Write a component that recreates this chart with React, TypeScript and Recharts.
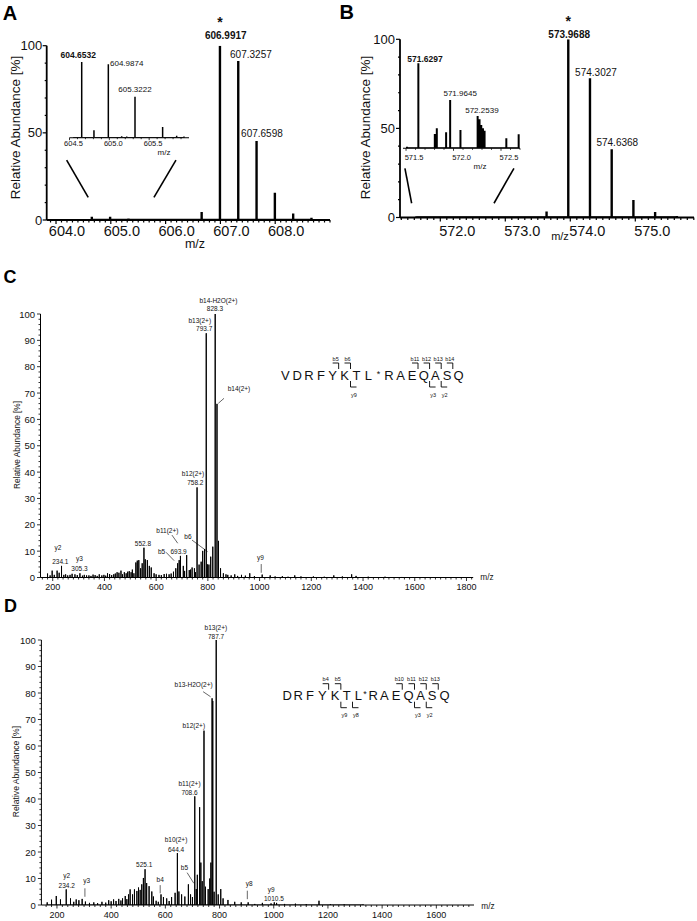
import React from 'react';
import { ComposedChart, Line, XAxis, YAxis, ReferenceDot, ReferenceLine } from 'recharts';

const FONT = '"Liberation Sans", Arial, Helvetica, sans-serif';

// ---------------- Panel A (precursor, main)
const aPeaks: number[][] = [
  [604.6532, 1.9], [604.9874, 1.9], [605.3222, 0.8], [606.33, 0.5], [606.6578, 4.6],
  [606.9917, 100], [607.3257, 91.2], [607.6598, 45.3], [607.9938, 15.7], [608.3279, 3.8], [608.6619, 1.3],
];
const aTicks = [604, 605, 606, 607, 608];
const aYTicks = [0, 50, 100];
// Panel A inset
const aInsetPeaks: number[][] = [
  [604.555, 1], [604.6532, 100], [604.807, 10], [604.9874, 97], [605.155, 2], [605.218, 1.5],
  [605.3222, 54], [605.46, 1], [605.669, 14], [605.845, 2.5], [605.937, 1.5],
];
const aInsetTicks = [604.5, 605.0, 605.5];

// ---------------- Panel B
const bPeaks: number[][] = [
  [571.63, 0.6], [571.96, 0.4], [572.25, 0.4], [573.6348, 3.3], [573.9688, 100], [574.3027, 78.1],
  [574.6368, 38.3], [574.9708, 9.8], [575.3049, 3.1], [575.64, 0.8],
];
const bTicks = [572, 573, 574, 575];
const bYTicks = [0, 50, 100];
const bInsetPeaks: number[][] = [
  [571.51, 1.5], [571.6297, 85], [571.803, 14.3], [571.824, 20], [571.922, 16], [571.9645, 48.3],
  [572.073, 18.3], [572.2539, 32.3], [572.274, 29], [572.292, 23.3], [572.31, 20], [572.327, 17.6],
  [572.556, 10], [572.686, 14],
];
const bInsetTicks = [571.5, 572.0, 572.5];

// ---------------- Panel C (MS/MS)
const cPeaks: number[][] = [
  [180, 1.5], [190, 0.8], [197.9, 2.6], [206, 1.0], [217, 2.6], [225, 1.8], [234.1, 4.4], [243, 1.0],
  [250, 1.2], [258, 0.8], [267, 1.0], [275, 1.4], [286, 1.2], [295, 0.9], [305.3, 1.6], [315, 0.7],
  [322, 1.0], [331, 0.8], [340, 0.8], [348, 0.6], [356, 1.1], [364, 0.9], [372, 0.6], [380, 1.2],
  [390, 0.8], [398, 1.0], [405, 0.7], [412, 1.6], [420, 1.3], [428, 0.9], [436, 1.2], [442, 1.5],
  [449, 2.0], [456, 1.8], [464, 2.6], [470, 1.2], [477, 2.0], [484, 1.6], [490, 2.2], [496, 2.4],
  [503, 2.0], [508, 3.0], [514, 1.6], [521.6, 5.7], [527, 6.4], [533, 6.6], [540, 3.5], [546, 5.4],
  [552.8, 11.3], [558, 6.9], [566, 6.6], [573.6, 4.4], [581, 3.8], [592, 1.6], [600, 1.2], [611, 1.0],
  [620, 0.9], [631, 1.3], [640, 1.4], [650, 1.2], [658, 1.5], [667, 2.2], [676, 3.5], [683, 5.4],
  [689, 6.6], [693.9, 8.2], [705, 4.4], [710, 2.5], [718, 8.5], [728, 2.8], [733, 3.0], [739, 3.8],
  [748, 3.5], [752, 2.0], [758.2, 34.2], [766, 4.9], [774, 6.0], [780, 10.1], [787, 10.8], [793.7, 92.7],
  [798, 5.0], [804, 4.9], [811, 7.9], [819, 11.7], [828.3, 100], [835.3, 65.9], [841, 13.9], [849, 3.5],
  [860, 1.6], [870, 1.2], [877, 1.0], [890, 0.8], [904, 1.2], [915, 0.6], [930, 1.0], [945, 0.7],
  [962, 1.6], [980, 0.5], [1010, 1.1], [1041, 0.8], [1060, 0.4], [1088, 0.5], [1110, 0.3], [1136, 0.8],
  [1160, 0.4], [1208, 0.4], [1250, 0.3], [1287, 0.8], [1320, 0.4], [1356, 1.2], [1373, 0.6], [1420, 0.3],
  [1485, 0.3], [1550, 0.2],
];
const cTicks = [200, 400, 600, 800, 1000, 1200, 1400, 1600, 1800];
const cYTicks = [0, 10, 20, 30, 40, 50, 60, 70, 80, 90, 100];

// ---------------- Panel D (MS/MS)
const dPeaks: number[][] = [
  [164, 1.0], [180, 2.0], [197.5, 3.4], [213, 2.1], [234.2, 5.9], [250, 2.5], [262, 1.2], [271, 2.1],
  [281, 1.8], [293, 2.3], [305, 1.3], [320, 0.8], [336, 1.0], [350, 0.7], [366, 1.2], [380, 0.9],
  [391, 1.8], [400, 1.4], [409, 2.1], [418, 1.5], [428, 2.3], [436, 1.7], [442, 2.5], [452, 3.4],
  [458, 2.2], [464, 4.0], [470, 5.9], [479, 4.0], [486, 5.9], [495, 5.3], [501, 6.6], [507, 5.7],
  [513, 7.8], [519, 10.2], [525.1, 13.5], [531, 8.3], [540, 7.1], [550, 5.1], [556, 3.2], [566, 1.6],
  [574, 1.2], [584, 4.0], [593, 3.0], [605, 2.5], [614, 1.5], [623, 3.0], [636, 4.6], [644.4, 19.6],
  [650, 5.1], [660, 4.0], [672, 3.2], [685, 7.8], [693, 4.0], [700, 3.0], [708.6, 41], [714, 6],
  [718, 11.4], [726.5, 36.9], [731, 16], [736, 9], [742.6, 65.8], [748, 6.9], [758, 6], [764, 10],
  [768, 16], [772.5, 78], [775, 77], [780, 5], [787.7, 100], [795, 4], [804.5, 6], [813, 2.5],
  [831, 1.9], [856, 1.2], [880, 1.0], [905.6, 1.0], [930, 0.4], [958, 0.8], [990, 0.6], [1002, 1.0],
  [1010.5, 0.8], [1040, 0.4], [1080, 0.5], [1120, 0.3], [1167, 1.6], [1209, 0.3], [1260, 0.2], [1330, 0.2],
];
const dTicks = [200, 400, 600, 800, 1000, 1200, 1400, 1600];
const dYTicks = [0, 10, 20, 30, 40, 50, 60, 70, 80, 90, 100];

// ---------------- Sequences
const cLetters = ['V', 'D', 'R', 'F', 'Y', 'K', 'T', 'L', '*', 'R', 'A', 'E', 'Q', 'A', 'S', 'Q'];
const cBIons: [number, string][] = [[4, 'b5'], [5, 'b6'], [11, 'b11'], [12, 'b12'], [13, 'b13'], [14, 'b14']];
const cYIons: [number, string][] = [[5, 'y9'], [12, 'y3'], [13, 'y2']];
const dLetters = ['D', 'R', 'F', 'Y', 'K', 'T', 'L', '*', 'R', 'A', 'E', 'Q', 'A', 'S', 'Q'];
const dBIons: [number, string][] = [[3, 'b4'], [4, 'b5'], [10, 'b10'], [11, 'b11'], [12, 'b12'], [13, 'b13']];
const dYIons: [number, string][] = [[4, 'y9'], [5, 'y8'], [11, 'y3'], [12, 'y2']];

// letter layout (pixels)
const cLetterX = [285.3, 297.2, 309, 320.9, 332.7, 344.6, 356.4, 368.3, 378.5, 389, 400.6, 412.2, 423.8, 435.4, 447, 458.6];
const dLetterX = [287.3, 298.3, 310, 322.3, 335, 346.7, 358.3, 365, 373.3, 384.3, 396, 408.5, 420.5, 432, 444.5];

// ---------------- helpers
const range = (a: number, b: number, s: number) => {
  const r: number[] = [];
  for (let i = 0; a + i * s <= b + 1e-9; i++) r.push(+(a + i * s).toFixed(4));
  return r;
};
const sticks = (peaks: number[][]) => {
  const s = [...peaks].sort((p, q) => p[0] - q[0]);
  const out: { x: number; y: number }[] = [];
  s.forEach(([m, h]) => {
    out.push({ x: m, y: 0 }, { x: m, y: h }, { x: m, y: 0 });
  });
  return out;
};
const isIn = (arr: number[], v: number) => arr.some((m) => Math.abs(m - v) < 1e-6);

type TickCfg = {
  major: number[]; fmt: (v: number) => string; font: number; gap: number; dx?: number;
  majLen: number; minLen: number; sw: number;
};
const xTick = (t: TickCfg) => (props: any) => {
  const { x, y, payload } = props;
  const v = payload.value;
  const maj = isIn(t.major, v);
  return (
    <g>
      <line x1={x} x2={x} y1={y} y2={y + (maj ? t.majLen : t.minLen)} stroke="#000" strokeWidth={t.sw} />
      {maj && (
        <text x={x + (t.dx || 0)} y={y + t.gap} textAnchor="middle" dominantBaseline="central"
          fontSize={t.font} fontFamily={FONT} fill="#111">{t.fmt(v)}</text>
      )}
    </g>
  );
};
const yTick = (t: TickCfg) => (props: any) => {
  const { x, y, payload } = props;
  const v = payload.value;
  const maj = isIn(t.major, v);
  return (
    <g>
      <line x1={x} x2={x - (maj ? t.majLen : t.minLen)} y1={y} y2={y} stroke="#000" strokeWidth={t.sw} />
      {maj && (
        <text x={x - t.gap} y={y} textAnchor="end" dominantBaseline="central"
          fontSize={t.font} fontFamily={FONT} fill="#111">{t.fmt(v)}</text>
      )}
    </g>
  );
};

const txt = (key: string, x: number, y: number, t: string, fs: number, bold = false) => (
  <ReferenceDot key={key} x={x} y={y} r={0} fill="none" stroke="none" ifOverflow="visible"
    label={{ value: t, position: 'center', fontSize: fs, fontFamily: FONT, fontWeight: bold ? 'bold' : 'normal', fill: '#111' }} />
);
const seg = (key: string, x1: number, y1: number, x2: number, y2: number, sw = 0.6) => (
  <ReferenceLine key={key} segment={[{ x: x1, y: y1 }, { x: x2, y: y2 }]} ifOverflow="visible" stroke="#000" strokeWidth={sw} />
);

type Cfg = {
  box: { left: number; top: number; width: number; height: number };
  plot: { top: number; right: number; bottom: number; left: number }; // distances from box edges
  yW: number; xH: number;
  peaks: number[][];
  xDomain: [number, number];
  yDomain: [number, number];
  xTicks: number[];
  xTick: TickCfg;
  yTicks?: number[];
  yTick?: TickCfg;
  axisW: number;
  lineW: number;
  extras: React.ReactNode[];
};

function renderSpectrum(c: Cfg) {
  const hasY = !!(c.yTicks && c.yTick);
  const margin = {
    top: c.plot.top,
    right: c.plot.right,
    bottom: c.plot.bottom - c.xH,
    left: hasY ? c.plot.left - c.yW : c.plot.left,
  };
  return (
    <div style={{ position: 'absolute', left: c.box.left, top: c.box.top }}>
      <ComposedChart width={c.box.width} height={c.box.height} margin={margin} data={sticks(c.peaks)}>
        <XAxis dataKey="x" type="number" domain={c.xDomain} allowDataOverflow ticks={c.xTicks} interval={0}
          height={c.xH} tickLine={false} tickSize={0} tickMargin={0}
          axisLine={{ stroke: '#000', strokeWidth: c.axisW }} tick={xTick(c.xTick)} />
        {hasY ? (
          <YAxis type="number" domain={c.yDomain} allowDataOverflow width={c.yW} ticks={c.yTicks} interval={0}
            tickLine={false} tickSize={0} tickMargin={0}
            axisLine={{ stroke: '#000', strokeWidth: c.axisW }} tick={yTick(c.yTick as TickCfg)} />
        ) : (
          <YAxis type="number" domain={c.yDomain} allowDataOverflow width={c.yW} hide />
        )}
        <Line dataKey="y" type="linear" dot={false} activeDot={false} stroke="#000"
          strokeWidth={c.lineW} isAnimationActive={false} />
        {c.extras}
      </ComposedChart>
    </div>
  );
}

function Sequence({ letters, xs, y, b, yi }: { letters: string[]; xs: number[]; y: number; b: [number, string][]; yi: [number, string][] }) {
  return (
    <g fontFamily={FONT} fill="#111">
      {letters.map((l, i) =>
        l === '*' ? (
          <text key={'l' + i} x={xs[i]} y={y - 1.5} fontSize={9} textAnchor="middle" dominantBaseline="central">*</text>
        ) : (
          <text key={'l' + i} x={xs[i]} y={y} fontSize={13} textAnchor="middle" dominantBaseline="central">{l}</text>
        )
      )}
      {b.map(([i, lab]) => {
        const bx = (xs[i] + xs[i + 1]) / 2;
        return (
          <g key={'b' + lab}>
            <path d={`M${bx - 6},${y - 12} H${bx} V${y - 6}`} fill="none" stroke="#000" strokeWidth={0.9} />
            <text x={bx - 3} y={y - 16.5} fontSize={5.5} textAnchor="middle" dominantBaseline="central">{lab}</text>
          </g>
        );
      })}
      {yi.map(([i, lab]) => {
        const bx = (xs[i] + xs[i + 1]) / 2;
        return (
          <g key={'y' + lab}>
            <path d={`M${bx},${y + 6} V${y + 12} H${bx + 6}`} fill="none" stroke="#000" strokeWidth={0.9} />
            <text x={bx + 3.5} y={y + 19.5} fontSize={5.5} textAnchor="middle" dominantBaseline="central">{lab}</text>
          </g>
        );
      })}
    </g>
  );
}

const fmt1 = (v: number) => v.toFixed(1);
const fmt0 = (v: number) => String(Math.round(v));

export default function App() {
  const A = renderSpectrum({
    box: { left: 0, top: 0, width: 340, height: 250 },
    plot: { top: 45.7, right: 10, bottom: 30, left: 46.7 }, yW: 40, xH: 26,
    peaks: aPeaks, xDomain: [603.83, 609.0], yDomain: [0, 100],
    xTicks: range(603.9, 609.0, 0.1),
    xTick: { major: aTicks, fmt: fmt1, font: 14.5, gap: 10.5, dx: 11, majLen: 4, minLen: 2.5, sw: 1.2 },
    yTicks: range(0, 100, 10),
    yTick: { major: aYTicks, fmt: fmt0, font: 13, gap: 4.5, majLen: 4, minLen: 2, sw: 1.2 },
    axisW: 1.8, lineW: 2.4,
    extras: [
      txt('a1', 606.9917, 113.3, '*', 14, true),
      txt('a2', 607.098, 105.6, '606.9917', 10, true),
      txt('a3', 607.557, 95.2, '607.3257', 10),
      txt('a4', 607.758, 49.9, '607.6598', 10),
      seg('az1', 604.194, 34.4, 604.588, 13.0, 1.6),
      seg('az2', 606.189, 34.4, 605.787, 13.0, 1.6),
    ],
  });

  const AIn = renderSpectrum({
    box: { left: 60, top: 50, width: 140, height: 110 },
    plot: { top: 12, right: 11, bottom: 22.3, left: 9.5 }, yW: 0, xH: 16,
    peaks: aInsetPeaks, xDomain: [604.5, 606.0], yDomain: [0, 100],
    xTicks: range(604.5, 605.9, 0.1),
    xTick: { major: aInsetTicks, fmt: fmt1, font: 7.5, gap: 5.5, dx: 4, majLen: 2.5, minLen: 1.5, sw: 0.8 },
    axisW: 1.1, lineW: 1.5,
    extras: [
      txt('ai1', 604.61, 109.2, '604.6532', 8.5, true),
      txt('ai2', 605.218, 98.3, '604.9874', 8),
      txt('ai3', 605.322, 63.9, '605.3222', 8),
    ],
  });

  const B = renderSpectrum({
    box: { left: 340, top: 0, width: 357, height: 250 },
    plot: { top: 39.3, right: 3, bottom: 32.5, left: 60 }, yW: 40, xH: 28,
    peaks: bPeaks, xDomain: [571.38, 575.903], yDomain: [0, 100],
    xTicks: range(571.4, 575.9, 0.1),
    xTick: { major: bTicks, fmt: fmt1, font: 14.5, gap: 13, dx: 17, majLen: 4, minLen: 2.5, sw: 1.2 },
    yTicks: range(0, 100, 10),
    yTick: { major: bYTicks, fmt: fmt0, font: 13, gap: 5, majLen: 4, minLen: 2, sw: 1.2 },
    axisW: 1.8, lineW: 2.4,
    extras: [
      txt('b1', 573.9688, 110.3, '*', 14, true),
      txt('b2', 573.983, 103.0, '573.9688', 10, true),
      txt('b3', 574.395, 81.3, '574.3027', 10),
      txt('b4', 574.723, 42, '574.6368', 10),
      seg('bz1', 571.456, 27.6, 571.559, 8.0, 1.6),
      seg('bz2', 573.133, 27.6, 572.826, 8.0, 1.6),
    ],
  });

  const BIn = renderSpectrum({
    box: { left: 395, top: 35, width: 135, height: 135 },
    plot: { top: 13.3, right: 10, bottom: 21.7, left: 8 }, yW: 0, xH: 16,
    peaks: bInsetPeaks, xDomain: [571.468, 572.7], yDomain: [0, 100],
    xTicks: range(571.5, 572.7, 0.1),
    xTick: { major: bInsetTicks, fmt: fmt1, font: 7.5, gap: 9.4, dx: 8, majLen: 2.5, minLen: 1.5, sw: 0.8 },
    axisW: 1.1, lineW: 2,
    extras: [
      txt('bi1', 571.70, 89, '571.6297', 8.5, true),
      txt('bi2', 572.07, 55, '571.9645', 8),
      txt('bi3', 572.299, 38.3, '572.2539', 8),
    ],
  });

  const lab = 6.5;
  const C = renderSpectrum({
    box: { left: 0, top: 290, width: 500, height: 310 },
    plot: { top: 24, right: 26.8, bottom: 22.5, left: 40.5 }, yW: 30, xH: 18,
    peaks: cPeaks, xDomain: [152.8, 1826], yDomain: [0, 100],
    xTicks: range(160, 1820, 20),
    xTick: { major: cTicks, fmt: fmt0, font: 9, gap: 9.5, majLen: 3.5, minLen: 2, sw: 0.8 },
    yTicks: range(0, 100, 2),
    yTick: { major: cYTicks, fmt: fmt0, font: 9.5, gap: 5.5, majLen: 3.5, minLen: 2, sw: 0.8 },
    axisW: 1, lineW: 1,
    extras: [
      txt('c1', 841, 104.9, 'b14-H2O(2+)', lab),
      txt('c2', 827.6, 101.9, '828.3', lab),
      txt('c3', 768.8, 97.3, 'b13(2+)', lab),
      txt('c4', 785.9, 94.3, '793.7', lab),
      txt('c5', 920.4, 71.8, 'b14(2+)', lab),
      seg('c5l', 840.4, 66.1, 862.4, 68.0),
      txt('c6', 742.5, 39.3, 'b12(2+)', lab),
      txt('c7', 751.4, 36, '758.2', lab),
      txt('c8', 643.5, 17.8, 'b11(2+)', lab),
      seg('c8l', 661, 16.1, 683.4, 13),
      txt('c9', 723, 15.5, 'b6', lab),
      seg('c9l', 738.7, 14.2, 799, 9.8),
      txt('c10', 621, 9.8, 'b5', lab),
      seg('c10l', 638, 9.6, 669.5, 6.4),
      txt('c11', 686.8, 9.8, '693.9', lab),
      txt('c12', 548.8, 13, '552.8', lab),
      txt('c13', 220.5, 11.5, 'y2', lab),
      txt('c14', 229.4, 6, '234.1', lab),
      txt('c15', 303.6, 7.3, 'y3', lab),
      txt('c16', 303.6, 3.5, '305.3', lab),
      txt('c17', 1002.8, 7.7, 'y9', lab),
      seg('c17l', 1006.3, 5.1, 1006.3, 1.8),
    ],
  });

  const D = renderSpectrum({
    box: { left: 0, top: 620, width: 500, height: 301 },
    plot: { top: 20, right: 26, bottom: 16, left: 41.4 }, yW: 30, xH: 15,
    peaks: dPeaks, xDomain: [142.6, 1739], yDomain: [0, 100],
    xTicks: range(160, 1720, 20),
    xTick: { major: dTicks, fmt: fmt0, font: 9, gap: 10, majLen: 3.5, minLen: 2, sw: 0.8 },
    yTicks: range(0, 100, 2),
    yTick: { major: dYTicks, fmt: fmt0, font: 9.5, gap: 5.5, majLen: 3.5, minLen: 2, sw: 0.8 },
    axisW: 1, lineW: 1,
    extras: [
      txt('d1', 786.5, 104.6, 'b13(2+)', lab),
      txt('d2', 787.3, 101.2, '787.7', lab),
      txt('d3', 704.2, 83, 'b13-H2O(2+)', lab),
      seg('d3l', 739.3, 80.5, 766.8, 78.6),
      txt('d4', 705, 67.5, 'b12(2+)', lab),
      txt('d5', 689.2, 45.9, 'b11(2+)', lab),
      txt('d6', 689.2, 42.5, '708.6', lab),
      txt('d7', 639.5, 24.5, 'b10(2+)', lab),
      txt('d8', 639.5, 21, '644.4', lab),
      txt('d9', 522, 15.1, '525.1', lab),
      txt('d10', 670.5, 14.1, 'b5', lab),
      seg('d10l', 680.4, 12.2, 705, 8.2),
      txt('d11', 581, 9.7, 'b4', lab),
      seg('d11l', 581, 7.5, 581, 4.4),
      txt('d12', 236.2, 11.1, 'y2', lab),
      txt('d13', 236.2, 7.3, '234.2', lab),
      txt('d14', 309.8, 9.2, 'y3', lab),
      seg('d14l', 303.2, 6.3, 303.2, 3.1),
      txt('d15', 909.1, 7.9, 'y8', lab),
      seg('d15l', 902.5, 5.4, 902.5, 2.2),
      txt('d16', 990.7, 5.7, 'y9', lab),
      txt('d17', 1000.6, 2.3, '1010.5', lab),
    ],
  });

  return (
    <div style={{ position: 'absolute', left: 0, top: 0, width: 697, height: 921, background: '#fff', overflow: 'hidden' }}>
      {A}
      {B}
      {C}
      {D}
      {AIn}
      {BIn}
      <svg width={697} height={921} style={{ position: 'absolute', left: 0, top: 0, pointerEvents: 'none' }}>
        <g fontFamily={FONT} fill="#000">
          <text x={10} y={12.5} fontSize={20} fontWeight="bold" textAnchor="middle" dominantBaseline="central">A</text>
          <text x={346.7} y={11.7} fontSize={20} fontWeight="bold" textAnchor="middle" dominantBaseline="central">B</text>
          <text x={10} y={276.7} fontSize={18} fontWeight="bold" textAnchor="middle" dominantBaseline="central">C</text>
          <text x={10.5} y={605.5} fontSize={18} fontWeight="bold" textAnchor="middle" dominantBaseline="central">D</text>

          <text transform="translate(15.3,127.5) rotate(-90)" fontSize={13.5} textAnchor="middle" dominantBaseline="central" fill="#111">Relative Abundance [%]</text>
          <text transform="translate(365,127.5) rotate(-90)" fontSize={13.5} textAnchor="middle" dominantBaseline="central" fill="#111">Relative Abundance [%]</text>
          <text transform="translate(16.5,445) rotate(-90)" fontSize={8.3} textAnchor="middle" dominantBaseline="central" fill="#111">Relative Abundance [%]</text>
          <text transform="translate(15.6,771.5) rotate(-90)" fontSize={8.6} textAnchor="middle" dominantBaseline="central" fill="#111">Relative Abundance [%]</text>

          <text x={195} y={244} fontSize={12.5} textAnchor="middle" dominantBaseline="central" fill="#111">m/z</text>
          <text x={560} y={236} fontSize={11} textAnchor="middle" dominantBaseline="central" fill="#111">m/z</text>
          <text x={164} y={152} fontSize={8} textAnchor="middle" dominantBaseline="central" fill="#111">m/z</text>
          <text x={480} y={166.7} fontSize={8} textAnchor="middle" dominantBaseline="central" fill="#111">m/z</text>
          <text x={487} y={577} fontSize={8.3} textAnchor="middle" dominantBaseline="central" fill="#111">m/z</text>
          <text x={488} y={905.7} fontSize={8.3} textAnchor="middle" dominantBaseline="central" fill="#111">m/z</text>

          <Sequence letters={cLetters} xs={cLetterX} y={375} b={cBIons} yi={cYIons} />
          <Sequence letters={dLetters} xs={dLetterX} y={695.7} b={dBIons} yi={dYIons} />
        </g>
      </svg>
    </div>
  );
}
